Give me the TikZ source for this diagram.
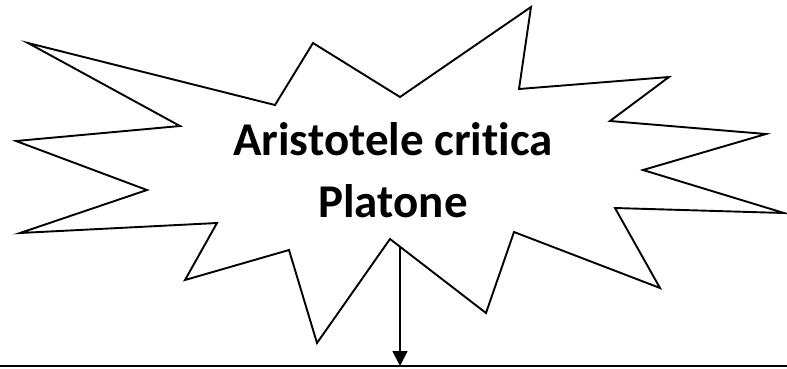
\documentclass[tikz,border=0pt]{standalone}
\usepackage{fontspec}
\setmainfont[Ligatures=NoCommon, RawFeature=-liga]{Carlito}
\usetikzlibrary{arrows.meta}

\begin{document}
\begin{tikzpicture}[
  x=1pt, y=-1pt,
  burst/.style={draw=black, line width=1.9pt, line join=miter, fill=white},
  label/.style={font=\bfseries\fontsize{47}{62}\selectfont, align=center, inner sep=0pt},
  arr/.style={-{Triangle[length=15pt, width=15pt]}, line width=1.7pt},
  base/.style={line width=2.2pt},
]
\useasboundingbox (0,0) rectangle (787,368);
% jagged outline, clockwise from the top-left spike
\draw[burst] (28,43) -- (275,105) -- (313,43) -- (400,97) -- (531,7)
  -- (519,89) -- (669,77) -- (610,121) -- (766,134) -- (643,170)
  -- (784,213) -- (615,208) -- (660,288) -- (514,232) -- (486,313)
  -- (390,239) -- (317,343) -- (289,250) -- (185,280) -- (217,223)
  -- (20,233) -- (147,190) -- (16,141) -- (180,126) -- cycle;
\node[label] (title) at (393,170) {Aristotele critica\\Platone};
\coordinate (src) at (400,247);
\coordinate (ll) at (0,366);
\coordinate (lr) at (787,366);
\coordinate (tip) at (400,366);
\draw[base] (ll) -- (lr);
\draw[arr] (src) -- (tip);
\end{tikzpicture}
\end{document}
